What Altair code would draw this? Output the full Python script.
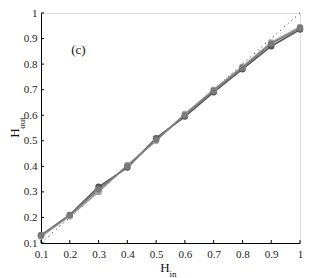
import altair as alt
import pandas as pd

h_in = [0.1, 0.2, 0.3, 0.4, 0.5, 0.6, 0.7, 0.8, 0.9, 1.0]
series_a = [0.13, 0.21, 0.32, 0.395, 0.51, 0.595, 0.69, 0.78, 0.87, 0.935]
series_b = [0.125, 0.205, 0.30, 0.405, 0.50, 0.605, 0.70, 0.79, 0.885, 0.945]
series_c = [0.13, 0.21, 0.31, 0.40, 0.505, 0.60, 0.695, 0.785, 0.88, 0.94]
series_names = ["a", "b", "c"]
series_colors = ["#555555", "#a0a0a0", "#7a7a7a"]
x_ticks = [0.1, 0.2, 0.3, 0.4, 0.5, 0.6, 0.7, 0.8, 0.9, 1.0]
y_ticks = [0.1, 0.2, 0.3, 0.4, 0.5, 0.6, 0.7, 0.8, 0.9, 1.0]

rows = []
for name, vals in zip(series_names, [series_a, series_b, series_c]):
    for x, y in zip(h_in, vals):
        rows.append({"x": x, "y": y, "s": name})
df = pd.DataFrame(rows)
diag = pd.DataFrame({"x": [0.1, 1.0], "y": [0.1, 1.0]})

FONT = "Liberation Serif"
xs = alt.Scale(domain=[0.1, 1.0], nice=False, zero=False)
ys = alt.Scale(domain=[0.1, 1.0], nice=False, zero=False)
color = alt.Color("s:N", scale=alt.Scale(domain=series_names, range=series_colors), legend=None)

xaxis = alt.Axis(values=x_ticks, format="~g", title=None, grid=False, tickSize=0,
                 labelPadding=5, labelFont=FONT, labelFontSize=11, labelColor="#222",
                 labelOverlap=False, labelFlush=False, domainColor="#000", domainWidth=1)
yaxis = alt.Axis(values=y_ticks, format="~g", title=None, grid=False, tickSize=0,
                 labelPadding=4, labelFont=FONT, labelFontSize=11, labelColor="#222",
                 labelOverlap=False, labelFlush=False, domainColor="#000", domainWidth=1)

def X(f):
    return alt.X(f, scale=xs, axis=xaxis)

def Y(f):
    return alt.Y(f, scale=ys, axis=yaxis)

base = alt.Chart(df)
dotted = alt.Chart(diag).mark_line(color="#222", strokeDash=[1, 4], strokeWidth=1).encode(
    x=X("x:Q"), y=Y("y:Q"))
lines = base.mark_line(strokeWidth=1.6).encode(
    x=X("x:Q"), y=Y("y:Q"), color=color, detail="s:N")
pts = base.mark_circle(size=42, opacity=1).encode(
    x=X("x:Q"), y=Y("y:Q"), color=color)

xt = pd.DataFrame({"x": x_ticks})
yt = pd.DataFrame({"y": y_ticks})
xticks = alt.Chart(xt).mark_rule(color="#000").encode(
    x=X("x:Q"), y=alt.value(230), y2=alt.value(227))
yticks = alt.Chart(yt).mark_rule(color="#000").encode(
    y=Y("y:Q"), x=alt.value(0), x2=alt.value(3))

label_c = alt.Chart(pd.DataFrame({"x": [0.23], "y": [0.855], "t": ["(c)"]})).mark_text(
    font=FONT, fontSize=13, color="#111").encode(
    x=X("x:Q"), y=Y("y:Q"), text="t:N")

def txt(t, x, y, size, angle=0):
    return alt.Chart(pd.DataFrame({"t": [t]})).mark_text(
        font=FONT, fontSize=size, color="#111", angle=angle).encode(
        x=alt.value(x), y=alt.value(y), text="t:N")

titles = (txt("H", 124, 255, 13) + txt("in", 132, 261, 9)
          + txt("H", -26, 120, 13, 270) + txt("out", -19, 110, 9, 270))

chart = alt.layer(dotted, lines, pts, xticks, yticks, label_c, titles).properties(
    width=259, height=230,
    autosize=alt.AutoSizeParams(type="none"),
    padding={"left": 33, "top": 5, "right": 8, "bottom": 35},
).configure_view(stroke=None).configure(background="white", font=FONT)

chart.save("out.html", embed_options={"renderer": "svg", "actions": False})
